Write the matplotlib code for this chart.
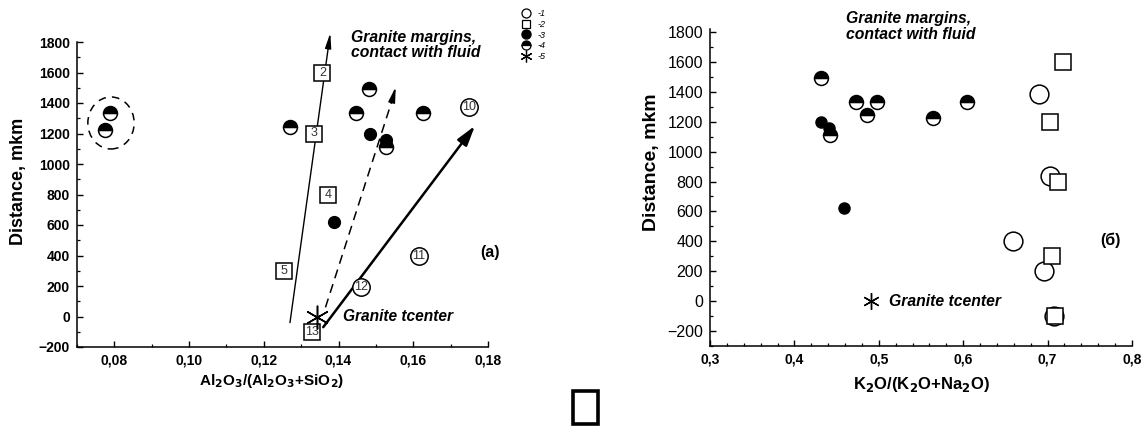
import matplotlib
matplotlib.use("Agg")
import matplotlib.pyplot as plt
from matplotlib.lines import Line2D
from matplotlib.patches import Ellipse, Rectangle
from matplotlib.ticker import MultipleLocator, FuncFormatter

plt.rcParams['font.family'] = ['Liberation Sans', 'DejaVu Sans']

# ---- left panel (a): Al2O3/(Al2O3+SiO2) vs distance ----
a_open_x = [0.1749, 0.1614, 0.1460]
a_open_y = [1375, 395, 195]
a_open_lab = ['10', '11', '12']
a_sq_x = [0.1357, 0.1335, 0.1372, 0.1254, 0.1330]
a_sq_y = [1600, 1200, 800, 300, -100]
a_sq_lab = ['2', '3', '4', '5', '13']
a_fill_x = [0.1484, 0.1527, 0.1389]
a_fill_y = [1200, 1155, 620]
a_half_x = [0.0787, 0.0775, 0.1271, 0.1481, 0.1448, 0.1627, 0.1527]
a_half_y = [1335, 1225, 1245, 1490, 1335, 1335, 1110]
a_star_x = [0.1343]
a_star_y = [0]

# ---- right panel (б): K2O/(K2O+Na2O) vs distance ----
b_open_x = [0.6896, 0.7026, 0.6587, 0.6955, 0.7080]
b_open_y = [1385, 840, 400, 200, -100]
b_sq_x = [0.7180, 0.7026, 0.7120, 0.7050, 0.7085]
b_sq_y = [1600, 1200, 800, 300, -100]
b_fill_x = [0.4320, 0.4413, 0.4591]
b_fill_y = [1200, 1160, 620]
b_half_x = [0.4318, 0.4425, 0.4734, 0.4865, 0.4983, 0.5637, 0.6040]
b_half_y = [1490, 1110, 1335, 1245, 1335, 1225, 1335]
b_star_x = [0.4912]
b_star_y = [0]

legend_labels = ['-1', '-2', '-3', '-4', '-5']

W, H = 1142, 428
fig = plt.figure(figsize=(W / 100, H / 100), dpi=100)
ax1 = fig.add_axes([77 / W, 1 - 347 / H, 411 / W, 305 / H])
ax2 = fig.add_axes([710 / W, 1 - 346 / H, 422 / W, 317 / H])

star = (6, 2, 0)
mew = 1.1


def style_axes(ax):
    for s in ['top', 'right']:
        ax.spines[s].set_visible(False)
    for s in ['left', 'bottom']:
        ax.spines[s].set_linewidth(1.1)
    ax.tick_params(which='major', direction='in', length=4, width=1)
    ax.tick_params(which='minor', direction='in', length=2.2, width=0.9)


# panel (a)
ax = ax1
style_axes(ax)
ax.set_xlim(0.07, 0.18)
ax.set_ylim(-200, 1800)
ax.xaxis.set_major_locator(MultipleLocator(0.02))
ax.xaxis.set_minor_locator(MultipleLocator(0.01))
ax.yaxis.set_major_locator(MultipleLocator(200))
ax.yaxis.set_minor_locator(MultipleLocator(100))
ax.xaxis.set_major_formatter(FuncFormatter(lambda v, p: ('%.2f' % v).replace('.', ',')))
ax.tick_params(axis='both', labelsize=10, pad=5)
for t in ax.get_xticklabels() + ax.get_yticklabels():
    t.set_fontweight('bold')

# arrows
ax.annotate('', xy=(0.1378, 1860), xytext=(0.1270, -40),
            arrowprops=dict(arrowstyle='-|>,head_length=0.9,head_width=0.18',
                            lw=1.0, color='black', shrinkA=0, shrinkB=0),
            annotation_clip=False)
ax.plot([0.1365, 0.1545], [60, 1430], color='black', lw=1.1, ls=(0, (6, 4)), zorder=2)
ax.annotate('', xy=(0.1553, 1505), xytext=(0.1545, 1430),
            arrowprops=dict(arrowstyle='-|>,head_length=0.9,head_width=0.2',
                            lw=1.1, color='black', shrinkA=0, shrinkB=0))
ax.annotate('', xy=(0.1765, 1250), xytext=(0.1359, -70),
            arrowprops=dict(arrowstyle='-|>,head_length=1.2,head_width=0.35',
                            lw=1.8, color='black', shrinkA=0, shrinkB=0))

ax.add_patch(Ellipse((0.0791, 1269), 0.0124, 341, fill=False, ls=(0, (5, 4)),
                     lw=1.1, color='black'))

ax.plot(a_half_x, a_half_y, ls='none', marker='o', ms=10, fillstyle='top',
        mfc='black', mfcalt='white', mec='black', mew=mew, zorder=3)
ax.plot(a_fill_x, a_fill_y, ls='none', marker='o', ms=8.5, mfc='black',
        mec='black', zorder=3)
ax.plot(a_sq_x, a_sq_y, ls='none', marker='s', ms=11, mfc='white',
        mec='black', mew=mew, zorder=3)
ax.plot(a_open_x, a_open_y, ls='none', marker='o', ms=12.5, mfc='white',
        mec='black', mew=mew, zorder=3)
for x, y, s in zip(a_sq_x + a_open_x, a_sq_y + a_open_y, a_sq_lab + a_open_lab):
    ax.text(x, y, s, ha='center', va='center', fontsize=9, color='#333333', zorder=4)
ax.plot(a_star_x, a_star_y, ls='none', marker=star, ms=17, mec='black', mew=1.1, zorder=5)

ax.text(0.1411, 0, 'Granite tcenter', fontsize=11.2, fontweight='bold', style='italic',
        va='center', ha='left')
ax.text(0.1432, 1880, 'Granite margins,\ncontact with fluid', fontsize=11.3,
        fontweight='bold', style='italic', va='top', ha='left', linespacing=1.05,
        clip_on=False)
ax.text(0.1805, 420, '(a)', fontsize=11.5, fontweight='bold', va='center', ha='center',
        clip_on=False)

ax.set_xlabel('Al$_\\mathbf{2}$O$_\\mathbf{3}$/(Al$_\\mathbf{2}$O$_\\mathbf{3}$+SiO$_\\mathbf{2}$)',
              fontsize=11, fontweight='bold')
ax.xaxis.set_label_coords((272 - 77) / 411, (347 - 372) / 305)
ax.set_ylabel('Distance, mkm', fontsize=13, fontweight='bold')
ax.yaxis.set_label_coords((27 - 77) / 411, (347 - 181) / 305)

# legend
handles = [
    Line2D([], [], ls='none', marker='o', ms=6.5, mfc='white', mec='black', mew=0.9),
    Line2D([], [], ls='none', marker='s', ms=6, mfc='white', mec='black', mew=0.9),
    Line2D([], [], ls='none', marker='o', ms=6.5, mfc='black', mec='black'),
    Line2D([], [], ls='none', marker='o', ms=6.5, fillstyle='top', mfc='black',
           mfcalt='white', mec='black', mew=0.9),
    Line2D([], [], ls='none', marker=star, ms=8.5, mec='black', mew=0.9),
]
fig.legend(handles, legend_labels, loc='upper left', bbox_to_anchor=(521 / W, 1 - 9 / H),
           frameon=False, prop={'style': 'italic', 'size': 6.5},
           labelspacing=0.2, handlelength=1.0, handletextpad=0.8, borderpad=0,
           borderaxespad=0)

# panel (б)
ax = ax2
style_axes(ax)
ax.set_xlim(0.3, 0.8)
ax.set_ylim(-300, 1820)
ax.xaxis.set_major_locator(MultipleLocator(0.1))
ax.xaxis.set_minor_locator(MultipleLocator(0.02))
ax.yaxis.set_major_locator(MultipleLocator(200))
ax.yaxis.set_minor_locator(MultipleLocator(100))
ax.xaxis.set_major_formatter(FuncFormatter(lambda v, p: ('%.1f' % v).replace('.', ',')))
ax.tick_params(axis='x', labelsize=10, pad=5)
ax.tick_params(axis='y', labelsize=11.5, pad=5)
for t in ax.get_xticklabels():
    t.set_fontweight('bold')

ax.plot(b_half_x, b_half_y, ls='none', marker='o', ms=10, fillstyle='top',
        mfc='black', mfcalt='white', mec='black', mew=mew, zorder=3)
ax.plot(b_fill_x, b_fill_y, ls='none', marker='o', ms=8, mfc='black',
        mec='black', zorder=3)
ax.plot(b_open_x, b_open_y, ls='none', marker='o', ms=13.5, mfc='white',
        mec='black', mew=mew, zorder=3)
ax.plot(b_sq_x, b_sq_y, ls='none', marker='s', ms=12, mfc='white',
        mec='black', mew=mew, zorder=3)
ax.plot(b_star_x, b_star_y, ls='none', marker=star, ms=12, mec='black', mew=1.0, zorder=5)

ax.text(0.5126, 0, 'Granite tcenter', fontsize=11.3, fontweight='bold', style='italic',
        va='center', ha='left')
ax.text(0.4615, 1940, 'Granite margins,\ncontact with fluid', fontsize=11.3,
        fontweight='bold', style='italic', va='top', ha='left', linespacing=1.05,
        clip_on=False)
ax.text(0.775, 405, '(б)', fontsize=11.5, fontweight='bold', va='center', ha='center')

ax.set_xlabel('K$_\\mathbf{2}$O/(K$_\\mathbf{2}$O+Na$_\\mathbf{2}$O)', fontsize=12,
              fontweight='bold')
ax.xaxis.set_label_coords(0.5, (346 - 375) / 317)
ax.set_ylabel('Distance, mkm', fontsize=14, fontweight='bold')
ax.yaxis.set_label_coords((660 - 710) / 422, (346 - 162) / 317)

# stray box at the bottom centre of the figure
fig.add_artist(Rectangle((573 / W, 1 - 424 / H), 25 / W, 33 / H,
                         transform=fig.transFigure, fill=False, lw=2.6, color='black'))

fig.savefig('out.png', dpi=100)
